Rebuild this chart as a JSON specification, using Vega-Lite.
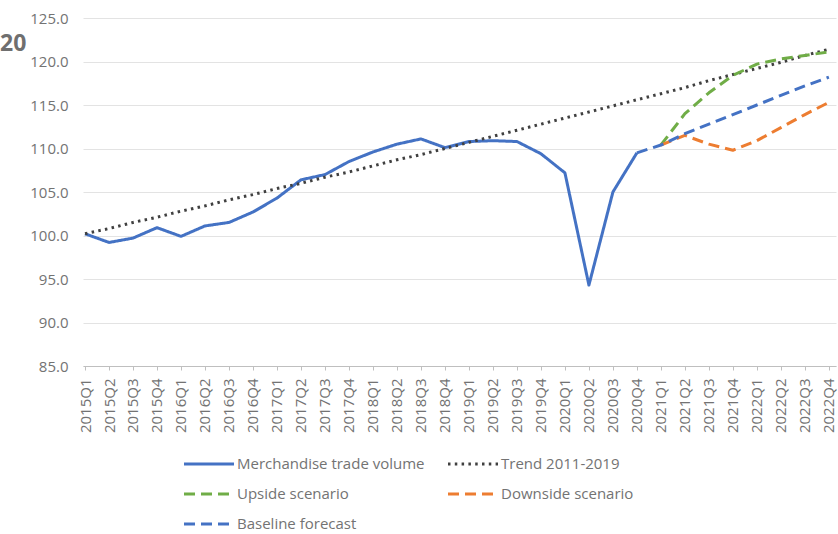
{
  "$schema": "https://vega.github.io/schema/vega-lite/v6.json",
  "width": 753,
  "height": 348,
  "autosize": {"type": "none"},
  "padding": {"left": 83, "top": 18, "right": 2, "bottom": 168},
  "background": "white",
  "title": {
    "text": "20",
    "anchor": "start",
    "frame": "group",
    "fontSize": 23,
    "fontWeight": "bold",
    "font": "Open Sans",
    "color": "#6f6f6f",
    "baseline": "alphabetic",
    "offset": 0,
    "dx": -83,
    "dy": 63
  },
  "config": {
    "view": {"stroke": null},
    "font": "Open Sans",
    "axis": {"labelFont": "Open Sans", "labelColor": "#737373", "labelFontSize": 15}
  },
  "data": {
    "values": [
      {"q": "2015Q1", "series": "Merchandise trade volume", "v": 100.2},
      {"q": "2015Q2", "series": "Merchandise trade volume", "v": 99.2},
      {"q": "2015Q3", "series": "Merchandise trade volume", "v": 99.7},
      {"q": "2015Q4", "series": "Merchandise trade volume", "v": 100.9},
      {"q": "2016Q1", "series": "Merchandise trade volume", "v": 99.9},
      {"q": "2016Q2", "series": "Merchandise trade volume", "v": 101.1},
      {"q": "2016Q3", "series": "Merchandise trade volume", "v": 101.5},
      {"q": "2016Q4", "series": "Merchandise trade volume", "v": 102.7},
      {"q": "2017Q1", "series": "Merchandise trade volume", "v": 104.3},
      {"q": "2017Q2", "series": "Merchandise trade volume", "v": 106.4},
      {"q": "2017Q3", "series": "Merchandise trade volume", "v": 107.0},
      {"q": "2017Q4", "series": "Merchandise trade volume", "v": 108.5},
      {"q": "2018Q1", "series": "Merchandise trade volume", "v": 109.6},
      {"q": "2018Q2", "series": "Merchandise trade volume", "v": 110.5},
      {"q": "2018Q3", "series": "Merchandise trade volume", "v": 111.1},
      {"q": "2018Q4", "series": "Merchandise trade volume", "v": 110.1},
      {"q": "2019Q1", "series": "Merchandise trade volume", "v": 110.8},
      {"q": "2019Q2", "series": "Merchandise trade volume", "v": 110.9},
      {"q": "2019Q3", "series": "Merchandise trade volume", "v": 110.8},
      {"q": "2019Q4", "series": "Merchandise trade volume", "v": 109.4},
      {"q": "2020Q1", "series": "Merchandise trade volume", "v": 107.2},
      {"q": "2020Q2", "series": "Merchandise trade volume", "v": 94.3},
      {"q": "2020Q3", "series": "Merchandise trade volume", "v": 105.0},
      {"q": "2020Q4", "series": "Merchandise trade volume", "v": 109.5},

      {"q": "2015Q1", "series": "Trend 2011-2019", "v": 100.2},
      {"q": "2015Q2", "series": "Trend 2011-2019", "v": 100.8},
      {"q": "2015Q3", "series": "Trend 2011-2019", "v": 101.5},
      {"q": "2015Q4", "series": "Trend 2011-2019", "v": 102.1},
      {"q": "2016Q1", "series": "Trend 2011-2019", "v": 102.8},
      {"q": "2016Q2", "series": "Trend 2011-2019", "v": 103.4},
      {"q": "2016Q3", "series": "Trend 2011-2019", "v": 104.1},
      {"q": "2016Q4", "series": "Trend 2011-2019", "v": 104.7},
      {"q": "2017Q1", "series": "Trend 2011-2019", "v": 105.4},
      {"q": "2017Q2", "series": "Trend 2011-2019", "v": 106.0},
      {"q": "2017Q3", "series": "Trend 2011-2019", "v": 106.7},
      {"q": "2017Q4", "series": "Trend 2011-2019", "v": 107.3},
      {"q": "2018Q1", "series": "Trend 2011-2019", "v": 108.0},
      {"q": "2018Q2", "series": "Trend 2011-2019", "v": 108.7},
      {"q": "2018Q3", "series": "Trend 2011-2019", "v": 109.3},
      {"q": "2018Q4", "series": "Trend 2011-2019", "v": 110.0},
      {"q": "2019Q1", "series": "Trend 2011-2019", "v": 110.7},
      {"q": "2019Q2", "series": "Trend 2011-2019", "v": 111.4},
      {"q": "2019Q3", "series": "Trend 2011-2019", "v": 112.1},
      {"q": "2019Q4", "series": "Trend 2011-2019", "v": 112.8},
      {"q": "2020Q1", "series": "Trend 2011-2019", "v": 113.5},
      {"q": "2020Q2", "series": "Trend 2011-2019", "v": 114.2},
      {"q": "2020Q3", "series": "Trend 2011-2019", "v": 114.9},
      {"q": "2020Q4", "series": "Trend 2011-2019", "v": 115.6},
      {"q": "2021Q1", "series": "Trend 2011-2019", "v": 116.3},
      {"q": "2021Q2", "series": "Trend 2011-2019", "v": 117.0},
      {"q": "2021Q3", "series": "Trend 2011-2019", "v": 117.8},
      {"q": "2021Q4", "series": "Trend 2011-2019", "v": 118.5},
      {"q": "2022Q1", "series": "Trend 2011-2019", "v": 119.2},
      {"q": "2022Q2", "series": "Trend 2011-2019", "v": 119.9},
      {"q": "2022Q3", "series": "Trend 2011-2019", "v": 120.7},
      {"q": "2022Q4", "series": "Trend 2011-2019", "v": 121.4},

      {"q": "2021Q1", "series": "Upside scenario", "v": 110.4},
      {"q": "2021Q2", "series": "Upside scenario", "v": 114.0},
      {"q": "2021Q3", "series": "Upside scenario", "v": 116.4},
      {"q": "2021Q4", "series": "Upside scenario", "v": 118.4},
      {"q": "2022Q1", "series": "Upside scenario", "v": 119.7},
      {"q": "2022Q2", "series": "Upside scenario", "v": 120.3},
      {"q": "2022Q3", "series": "Upside scenario", "v": 120.7},
      {"q": "2022Q4", "series": "Upside scenario", "v": 121.1},

      {"q": "2021Q1", "series": "Downside scenario", "v": 110.4},
      {"q": "2021Q2", "series": "Downside scenario", "v": 111.5},
      {"q": "2021Q3", "series": "Downside scenario", "v": 110.5},
      {"q": "2021Q4", "series": "Downside scenario", "v": 109.8},
      {"q": "2022Q1", "series": "Downside scenario", "v": 110.9},
      {"q": "2022Q2", "series": "Downside scenario", "v": 112.4},
      {"q": "2022Q3", "series": "Downside scenario", "v": 113.9},
      {"q": "2022Q4", "series": "Downside scenario", "v": 115.3},

      {"q": "2020Q4", "series": "Baseline forecast", "v": 109.5},
      {"q": "2021Q1", "series": "Baseline forecast", "v": 110.4},
      {"q": "2021Q2", "series": "Baseline forecast", "v": 111.7},
      {"q": "2021Q3", "series": "Baseline forecast", "v": 112.8},
      {"q": "2021Q4", "series": "Baseline forecast", "v": 113.9},
      {"q": "2022Q1", "series": "Baseline forecast", "v": 115.0},
      {"q": "2022Q2", "series": "Baseline forecast", "v": 116.1},
      {"q": "2022Q3", "series": "Baseline forecast", "v": 117.2},
      {"q": "2022Q4", "series": "Baseline forecast", "v": 118.2}
    ]
  },
  "mark": {"type": "line", "strokeWidth": 3, "strokeJoin": "round"},
  "encoding": {
    "x": {
      "field": "q",
      "type": "ordinal",
      "sort": null,
      "scale": {"type": "point", "padding": 0.19, "align": 0.22},
      "axis": {
        "title": null,
        "labelAngle": -90,
        "labelPadding": 8,
        "tickSize": 4,
        "tickColor": "#bfbfbf",
        "domainColor": "#bfbfbf",
        "grid": false
      }
    },
    "y": {
      "field": "v",
      "type": "quantitative",
      "scale": {"domain": [85, 125], "nice": false, "zero": false},
      "axis": {
        "title": null,
        "values": [85, 90, 95, 100, 105, 110, 115, 120, 125],
        "format": ".1f",
        "labelPadding": 15,
        "ticks": false,
        "domain": false,
        "gridColor": "#e3e3e3",
        "gridWidth": 1
      }
    },
    "color": {
      "field": "series",
      "type": "nominal",
      "scale": {
        "domain": ["Merchandise trade volume", "Trend 2011-2019", "Upside scenario", "Downside scenario", "Baseline forecast"],
        "range": ["#4472c4", "#404040", "#70ad47", "#ed7d31", "#4472c4"]
      },
      "legend": {
        "title": null,
        "orient": "none",
        "direction": "horizontal",
        "legendX": 112,
        "legendY": 432,
        "columns": 2,
        "columnPadding": 17,
        "rowPadding": 8,
        "symbolType": "M-2,0H2",
        "symbolSize": 625,
        "symbolStrokeWidth": 3,
        "labelOffset": 14,
        "labelFont": "Open Sans",
        "labelFontSize": 15,
        "labelColor": "#737373",
        "labelLimit": 300
      }
    },
    "strokeDash": {
      "field": "series",
      "type": "nominal",
      "scale": {
        "domain": ["Merchandise trade volume", "Trend 2011-2019", "Upside scenario", "Downside scenario", "Baseline forecast"],
        "range": [[1, 0], [2.5, 4.3], [11, 6], [11, 6], [11, 6]]
      },
      "legend": null
    }
  }
}
